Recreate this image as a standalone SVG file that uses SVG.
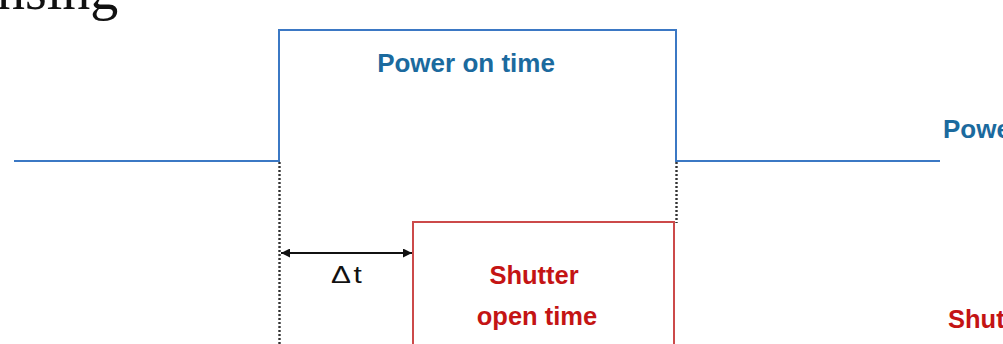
<svg xmlns="http://www.w3.org/2000/svg" width="1003" height="344" viewBox="0 0 1003 344">
<style>
.blue{fill:none;stroke:#3b78c4;stroke-width:2}
.red{fill:none;stroke:#cc4a4a;stroke-width:2}
.dot{fill:none;stroke:#333;stroke-width:2.4;stroke-dasharray:2 2}
.lblB{font-family:"Liberation Sans",Arial,sans-serif;font-weight:bold;font-size:26px;fill:#1b6a9e}
.lblR{font-family:"Liberation Sans",Arial,sans-serif;font-weight:bold;font-size:25.5px;fill:#c41414}
.dt{font-family:"Liberation Sans",Arial,sans-serif;font-size:23px;letter-spacing:2px;fill:#111}
.serif{font-family:"Liberation Serif","Times New Roman",serif;font-size:56px;fill:#111}
</style>
<defs>
<marker id="ah" viewBox="0 0 10 10" refX="10" refY="5" markerWidth="13" markerHeight="9" markerUnits="userSpaceOnUse" orient="auto-start-reverse">
<path d="M0,0 L10,5 L0,10 z" fill="#111"/>
</marker>
</defs>
<text class="serif" x="-3" y="9">nsing</text>
<g id="power-signal">
<polyline class="blue" points="14,161 279,161 279,30 676,30 676,161 940,161"/>
<text class="lblB" x="466" y="72" text-anchor="middle">Power on time</text>
<text class="lblB" x="943" y="138">Power</text>
</g>
<g id="shutter-signal">
<polyline class="red" points="413,344 413,222 674,222 674,344"/>
<text class="lblR" x="534" y="284" text-anchor="middle">Shutter</text>
<text class="lblR" x="537" y="325" text-anchor="middle">open time</text>
<text class="lblR" x="948" y="328">Shutter</text>
</g>
<g id="connectors">
<line class="dot" x1="279.5" y1="162" x2="279.5" y2="344"/>
<line class="dot" x1="676.5" y1="162" x2="676.5" y2="223"/>
<line x1="281" y1="253" x2="412" y2="253" stroke="#111" stroke-width="2" marker-start="url(#ah)" marker-end="url(#ah)"/>
</g>
<g id="delta-label">
<text class="dt" transform="translate(331,283) scale(1.3,1)" x="0" y="0">Δt</text>
</g>
</svg>
